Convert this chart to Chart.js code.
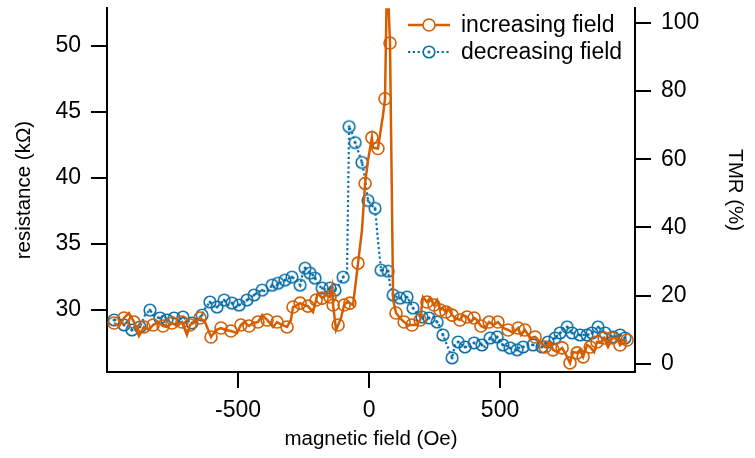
<!DOCTYPE html>
<html>
<head>
<meta charset="utf-8">
<script src="https://cdn.jsdelivr.net/npm/chart.js@4.4.1/dist/chart.umd.min.js"></script>
<style>
  html, body { margin: 0; padding: 0; background: #fff; }
  #wrap { width: 755px; height: 458px; }
</style>
</head>
<body>
<div id="wrap"><canvas id="tmrChart" width="755" height="458"></canvas></div>
<script>
// field sweep up (Oe) and resistance (kOhm)
const incField = [-973,-954,-935,-916,-897,-878,-859,-840,-824,-805,-786,-771,-752,-733,-714,-695,-683,-664,-645,-626,
  -603,-584,-565,-546,-527,-504,-489,-477,-458,-443,-424,-408,-389,-366,-351,-332,-313,-298,-290,-275,
  -263,-248,-233,-214,-202,-195,-179,-164,-149,-141,-137,-126,-118,-107,-95,-84,-73,-61,-42,-27,
  -15,-4,11,15,34,53,61,69,80,92,103,118,134,149,164,183,195,206,221,233,
  248,260,271,279,294,302,317,328,347,359,374,389,401,412,427,443,458,473,492,511,
  531,550,569,580,595,615,634,653,672,691,702,718,737,752,767,779,794,805,817,832,
  844,859,870,882,897,912,928,947,958,969,985];
const incRes = [28.98,28.75,29.36,29.74,29.05,28.0,28.68,28.45,28.83,29.05,28.75,28.68,28.98,28.75,29.05,28.07,28.83,29.05,29.36,29.05,
  27.92,28.45,28.6,28.45,28.37,28.22,28.83,29.05,28.75,28.98,29.05,29.58,29.21,28.68,29.05,28.83,28.68,29.21,30.19,30.34,
  30.49,30.34,30.26,29.81,30.72,31.25,30.87,31.1,30.95,31.7,30.34,28.45,28.83,29.36,30.34,30.57,30.49,30.34,33.52,36.01,
  39.57,41.31,43.05,42.29,42.22,44.71,46.0,56.0,50.23,30.72,29.74,29.36,29.05,28.83,28.83,28.83,29.21,30.95,30.57,30.87,
  30.34,30.72,29.96,30.11,29.81,30.11,29.58,29.36,29.21,29.58,29.43,29.05,29.36,29.21,28.75,28.6,29.05,28.83,29.05,28.6,
  28.45,28.22,28.6,28.07,28.45,27.84,27.92,27.54,27.16,27.54,26.94,26.78,27.09,26.56,25.95,26.78,26.71,26.94,26.41,27.31,
  27.16,26.78,27.54,27.47,27.84,27.16,27.84,27.84,27.31,27.47,27.69];

// field sweep down
const decField = [-973,-950,-935,-924,-905,-889,-874,-855,-836,-817,-798,-782,-771,-760,-744,-725,-710,-695,-676,-657,
  -637,-630,-607,-592,-580,-565,-553,-538,-523,-508,-496,-481,-466,-454,-439,-428,-408,-389,-370,-359,
  -347,-332,-321,-305,-294,-275,-263,-252,-244,-233,-225,-214,-206,-195,-179,-160,-149,-141,-130,-111,
  -99,-84,-76,-65,-53,-42,-27,-15,-4,11,23,34,46,61,73,80,92,107,118,134,
  145,156,168,187,202,214,229,244,260,271,282,290,317,328,340,355,366,386,401,416,
  431,443,462,477,489,500,511,527,538,553,565,576,588,607,626,645,660,672,683,699,
  710,721,729,744,756,767,775,790,805,821,832,844,851,863,874,889,901,916,931,947,
  958,969,977];
const decRes = [29.21,29.21,28.83,29.05,28.45,28.83,28.68,29.58,29.96,29.43,29.36,29.58,29.21,29.43,29.36,29.21,29.43,29.21,28.98,29.21,
  29.58,29.96,30.57,30.26,30.19,30.49,30.72,30.34,30.49,30.19,30.34,30.49,30.72,30.87,31.1,31.25,31.47,31.32,31.85,31.63,
  32.0,32.08,32.23,32.38,32.46,32.23,31.85,32.84,33.14,32.99,32.76,32.61,32.38,31.85,31.63,31.47,31.63,31.7,31.47,32.0,
  32.46,32.84,43.88,43.43,42.67,42.06,41.16,39.95,38.28,37.9,37.68,35.26,32.99,32.99,32.91,31.85,31.1,30.95,30.87,30.95,
  30.95,30.57,30.11,29.58,29.43,29.05,29.36,29.43,29.05,28.68,28.07,27.69,26.33,27.31,27.54,27.31,27.16,27.16,27.47,27.69,
  27.31,27.16,27.84,27.69,27.92,27.54,27.31,27.24,27.09,26.94,26.94,27.16,27.16,27.39,27.31,27.24,27.16,27.39,27.54,27.69,
  27.84,28.07,28.22,28.6,28.68,28.45,28.22,28.15,28.07,28.07,28.07,28.15,28.22,28.45,28.68,28.45,28.22,28.07,27.92,28.0,
  28.07,27.92,27.84];

const seriesLabels = ['increasing field', 'decreasing field'];
const fieldTicks = [-500, 0, 500];
const resTicks = [30, 35, 40, 45, 50];
const tmrTicks = [0, 20, 40, 60, 80, 100];

const R0 = 25.88;          // resistance at TMR = 0
const resMin = 25.26, resMax = 52.87;

const ORANGE = '#D55E00';
const BLUE = '#0a6fa8';
const FONT = "'Liberation Sans', Arial, Helvetica, sans-serif";

// open circle with a centre dot for the down sweep
function dotCircle() {
    const c = document.createElement('canvas');
    c.width = 16; c.height = 16;
    const g = c.getContext('2d');
    g.strokeStyle = BLUE;
    g.lineWidth = 1.6;
    g.beginPath();
    g.arc(8, 8, 5.8, 0, Math.PI * 2);
    g.stroke();
    g.fillStyle = BLUE;
    g.beginPath();
    g.arc(8, 8, 1.5, 0, Math.PI * 2);
    g.fill();
    return c;
}
const blueMarker = dotCircle();

const legendSamples = {
    id: 'legendSamples',
    afterDraw(chart) {
        const ctx = chart.ctx;
        ctx.save();
        ctx.font = '23px ' + FONT;
        ctx.fillStyle = '#000';
        ctx.textBaseline = 'middle';

        // increasing
        ctx.strokeStyle = ORANGE;
        ctx.lineWidth = 2.5;
        ctx.beginPath();
        ctx.moveTo(408, 25); ctx.lineTo(450, 25);
        ctx.stroke();
        ctx.lineWidth = 1.6;
        ctx.beginPath();
        ctx.arc(429, 25, 6, 0, Math.PI * 2);
        ctx.fillStyle = '#fff';
        ctx.fill();
        ctx.stroke();
        ctx.fillStyle = '#000';
        ctx.fillText(seriesLabels[0], 461, 26);

        // decreasing
        ctx.strokeStyle = BLUE;
        ctx.lineWidth = 2.2;
        ctx.setLineDash([2.2, 2.6]);
        ctx.beginPath();
        ctx.moveTo(408, 52); ctx.lineTo(450, 52);
        ctx.stroke();
        ctx.setLineDash([]);
        ctx.fillStyle = '#fff';
        ctx.beginPath();
        ctx.arc(429, 52, 5.8, 0, Math.PI * 2);
        ctx.fill();
        ctx.drawImage(blueMarker, 429 - 8, 52 - 8);
        ctx.fillStyle = '#000';
        ctx.fillText(seriesLabels[1], 461, 53);
        ctx.restore();
    }
};

const tickFont = { family: FONT, size: 23 };
const titleFont = { family: FONT, size: 20.5 };
const axisGrid = { drawOnChartArea: false, tickLength: 16, color: '#000', lineWidth: 2 };
const axisBorder = { color: '#000', width: 2 };

// fixed box sizes so the plot area sits where the original one does
function fitBox(prop, size) {
    return s => {
        s[prop] = size;
        s.paddingTop = 0; s.paddingBottom = 0;
        s.paddingLeft = 0; s.paddingRight = 0;
    };
}

new Chart(document.getElementById('tmrChart').getContext('2d'), {
    type: 'line',
    data: {
        datasets: [
            {
                label: seriesLabels[0],
                data: incField.map((x, i) => ({ x: x, y: incRes[i] })),
                borderColor: ORANGE,
                borderWidth: 2.5,
                pointRadius: c => (c.dataIndex % 2 === 0 ? 6 : 0),
                pointBorderWidth: 1.6,
                pointBorderColor: ORANGE,
                pointBackgroundColor: 'rgba(0,0,0,0)',
                tension: 0,
                yAxisID: 'y'
            },
            {
                label: seriesLabels[1],
                data: decField.map((x, i) => ({ x: x, y: decRes[i] })),
                borderColor: BLUE,
                borderWidth: 2.2,
                borderDash: [2.2, 2.6],
                pointStyle: blueMarker,
                pointRadius: c => (c.dataIndex % 2 === 0 ? 6 : 0),
                tension: 0,
                yAxisID: 'y'
            }
        ]
    },
    options: {
        responsive: false,
        animation: false,
        layout: { padding: { top: 7, left: 0, right: 0, bottom: 0 } },
        plugins: { legend: { display: false }, tooltip: { enabled: false } },
        scales: {
            x: {
                type: 'linear',
                position: 'bottom',
                min: -1000,
                max: 1015,
                afterBuildTicks: s => { s.ticks = fieldTicks.map(v => ({ value: v })); },
                afterFit: fitBox('height', 86),
                ticks: { color: '#000', font: tickFont, padding: 9, maxRotation: 0 },
                grid: axisGrid,
                border: axisBorder,
                title: { display: true, text: 'magnetic field (Oe)', color: '#000', font: titleFont, padding: { top: 0, bottom: 6 } }
            },
            y: {
                type: 'linear',
                position: 'left',
                min: resMin,
                max: resMax,
                afterBuildTicks: s => { s.ticks = resTicks.map(v => ({ value: v })); },
                afterFit: fitBox('width', 107),
                ticks: { color: '#000', font: tickFont, padding: 10 },
                grid: axisGrid,
                border: axisBorder,
                title: { display: true, text: 'resistance (kΩ)', color: '#000', font: titleFont, padding: { top: 12, bottom: 0 } }
            },
            y2: {
                type: 'linear',
                position: 'right',
                min: (resMin / R0 - 1) * 100,
                max: (resMax / R0 - 1) * 100,
                afterBuildTicks: s => { s.ticks = tmrTicks.map(v => ({ value: v })); },
                afterFit: fitBox('width', 120),
                ticks: { color: '#000', font: tickFont, padding: 10 },
                grid: axisGrid,
                border: axisBorder,
                title: { display: true, text: 'TMR (%)', color: '#000', font: titleFont, padding: { top: 8, bottom: 0 } }
            }
        }
    },
    plugins: [legendSamples]
});
</script>
</body>
</html>
